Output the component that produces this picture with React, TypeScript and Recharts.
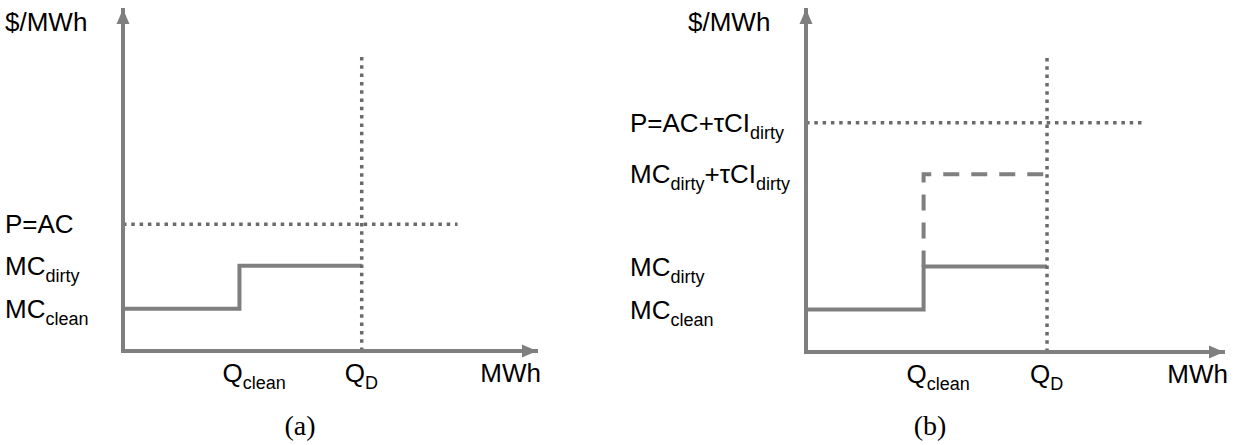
import React from 'react';
import { LineChart, Line, XAxis, YAxis, ReferenceDot } from 'recharts';

// ---------- data (arbitrary units, both axes run 0..100) ----------
const qClean = 28.2;
const qD = 57.8;
const mcClean = 12.4;
const mcDirty = 25;
const priceA = 37.2;        // P = AC
const mcDirtyTaxB = 52;     // MC_dirty + tau*CI_dirty
const priceB = 67;          // P = AC + tau*CI_dirty
const qDTop = 86.8;
const priceEndA = 81;
const priceEndB = 81.3;

const supplyA = [
  { x: 0, y: mcClean },
  { x: qClean, y: mcClean },
  { x: qClean, y: mcDirty },
  { x: qD, y: mcDirty },
];
const supplyB = [
  { x: 0, y: mcClean },
  { x: qClean, y: mcClean },
  { x: qClean, y: mcDirty },
  { x: qD, y: mcDirty },
];
const taxedB = [
  { x: qClean, y: mcDirty },
  { x: qClean, y: mcDirtyTaxB },
  { x: qD, y: mcDirtyTaxB },
];
const priceLineA = [
  { x: 0, y: priceA },
  { x: priceEndA, y: priceA },
];
const priceLineB = [
  { x: 0, y: priceB },
  { x: priceEndB, y: priceB },
];
const demandLine = [
  { x: qD, y: 0 },
  { x: qD, y: qDTop },
];

type Part = { t: string; sub?: boolean };

const xTickValues = [qClean, qD, 100];
const xTickLabels: Part[][] = [
  [{ t: 'Q' }, { t: 'clean', sub: true }],
  [{ t: 'Q' }, { t: 'D', sub: true }],
  [{ t: 'MWh' }],
];

const yTickValuesA = [mcClean, mcDirty, priceA];
const yTickLabelsA: Part[][] = [
  [{ t: 'MC' }, { t: 'clean', sub: true }],
  [{ t: 'MC' }, { t: 'dirty', sub: true }],
  [{ t: 'P=AC' }],
];

const yTickValuesB = [mcClean, mcDirty, mcDirtyTaxB, priceB];
const yTickLabelsB: Part[][] = [
  [{ t: 'MC' }, { t: 'clean', sub: true }],
  [{ t: 'MC' }, { t: 'dirty', sub: true }],
  [{ t: 'MC' }, { t: 'dirty', sub: true }, { t: '+τCI' }, { t: 'dirty', sub: true }],
  [{ t: 'P=AC+τCI' }, { t: 'dirty', sub: true }],
];

const yUnit = '$/MWh';
const captions = ['(a)', '(b)'];

// ---------- styles ----------
const FONT = '"Liberation Sans", Arial, sans-serif';
const SERIF = '"Liberation Serif", "DejaVu Serif", serif';
const GRAY = '#7f7f7f';
const DOT_GRAY = '#6a6a6a';
const MAIN_SIZE = 26;
const SUB_SIZE = 18;
const SUB_SHIFT = 7;

const renderParts = (parts: Part[]) => {
  let shift = 0;
  return parts.map((p, i) => {
    const target = p.sub ? SUB_SHIFT : 0;
    const dy = target - shift;
    shift = target;
    return (
      <tspan key={i} dy={dy} fontSize={p.sub ? SUB_SIZE : MAIN_SIZE}>
        {p.t}
      </tspan>
    );
  });
};

const findIdx = (values: number[], v: number) =>
  values.findIndex((a) => Math.abs(a - v) < 1e-6);

const makeYTick = (values: number[], labels: Part[][], labelX: number) => (props: any) => {
  const { y, payload } = props;
  const i = findIdx(values, Number(payload.value));
  if (i < 0) return <g />;
  return (
    <text x={labelX} y={y + 9} textAnchor="start" fontFamily={FONT} fontSize={MAIN_SIZE} fill="#000">
      {renderParts(labels[i])}
    </text>
  );
};

const makeXTick = (baseline: number) => (props: any) => {
  const { x, payload } = props;
  const i = findIdx(xTickValues, Number(payload.value));
  if (i < 0) return <g />;
  const isUnit = i === xTickValues.length - 1;
  return (
    <text
      x={isUnit ? x + 5 : x - 17}
      y={baseline}
      textAnchor={isUnit ? 'end' : 'start'}
      fontFamily={FONT}
      fontSize={MAIN_SIZE}
      fill="#000"
    >
      {renderParts(xTickLabels[i])}
    </text>
  );
};

const upArrow = (props: any) => {
  const { cx, cy } = props;
  return <path d={`M${cx},${cy - 1} L${cx - 6.5},${cy + 14} L${cx + 6.5},${cy + 14} Z`} fill={GRAY} />;
};
const rightArrow = (props: any) => {
  const { cx, cy } = props;
  return <path d={`M${cx + 1},${cy} L${cx - 14},${cy - 6.5} L${cx - 14},${cy + 6.5} Z`} fill={GRAY} />;
};

type PanelProps = {
  left: number;
  width: number;
  margin: { top: number; right: number; bottom: number; left: number };
  yValues: number[];
  yLabels: Part[][];
  labelX: number;
  xBaseline: number;
  supply: { x: number; y: number }[];
  price: { x: number; y: number }[];
  taxed?: { x: number; y: number }[];
};

const Panel = ({ left, width, margin, yValues, yLabels, labelX, xBaseline, supply, price, taxed }: PanelProps) => (
  <div style={{ position: 'absolute', left, top: 0 }}>
    <LineChart width={width} height={445} margin={margin}>
      <XAxis
        type="number"
        dataKey="x"
        domain={[0, 100]}
        ticks={xTickValues}
        tick={makeXTick(xBaseline)}
        tickLine={false}
        height={30}
        axisLine={{ stroke: GRAY, strokeWidth: 4, strokeLinecap: 'square' }}
        allowDataOverflow
        interval={0}
      />
      <YAxis
        type="number"
        dataKey="y"
        domain={[0, 100]}
        ticks={yValues}
        tick={makeYTick(yValues, yLabels, labelX)}
        tickLine={false}
        width={60}
        axisLine={{ stroke: GRAY, strokeWidth: 4, strokeLinecap: 'square' }}
        allowDataOverflow
        interval={0}
      />
      <Line data={supply} dataKey="y" type="linear" stroke={GRAY} strokeWidth={4} dot={false} isAnimationActive={false} />
      {taxed && (
        <Line
          data={taxed}
          dataKey="y"
          type="linear"
          stroke={GRAY}
          strokeWidth={4}
          strokeDasharray="16 12"
          dot={false}
          isAnimationActive={false}
        />
      )}
      <Line
        data={price}
        dataKey="y"
        type="linear"
        stroke={DOT_GRAY}
        strokeWidth={3.5}
        strokeDasharray="3.5 4.8"
        dot={false}
        isAnimationActive={false}
      />
      <Line
        data={demandLine}
        dataKey="y"
        type="linear"
        stroke={DOT_GRAY}
        strokeWidth={3.5}
        strokeDasharray="3.5 4.8"
        dot={false}
        isAnimationActive={false}
      />
      <ReferenceDot x={0} y={100} r={0} shape={upArrow} ifOverflow="visible" />
      <ReferenceDot x={100} y={0} r={0} shape={rightArrow} ifOverflow="visible" />
    </LineChart>
  </div>
);

export default function App() {
  return (
    <div style={{ position: 'absolute', left: 0, top: 0, width: 1239, height: 445, background: '#fff' }}>
      <Panel
        left={0}
        width={600}
        margin={{ top: 10, right: 64, bottom: 64, left: 63 }}
        yValues={yTickValuesA}
        yLabels={yTickLabelsA}
        labelX={5}
        xBaseline={382}
        supply={supplyA}
        price={priceLineA}
      />
      <Panel
        left={600}
        width={639}
        margin={{ top: 10, right: 16, bottom: 63, left: 146 }}
        yValues={yTickValuesB}
        yLabels={yTickLabelsB}
        labelX={30}
        xBaseline={383}
        supply={supplyB}
        price={priceLineB}
        taxed={taxedB}
      />
      <svg width={1239} height={445} style={{ position: 'absolute', left: 0, top: 0, pointerEvents: 'none' }}>
        <text x={5} y={31} fontFamily={FONT} fontSize={MAIN_SIZE} fill="#000">{yUnit}</text>
        <text x={688} y={31} fontFamily={FONT} fontSize={MAIN_SIZE} fill="#000">{yUnit}</text>
        <text x={300} y={435} textAnchor="middle" fontFamily={SERIF} fontSize={28} fill="#000">{captions[0]}</text>
        <text x={930} y={435} textAnchor="middle" fontFamily={SERIF} fontSize={28} fill="#000">{captions[1]}</text>
      </svg>
    </div>
  );
}
